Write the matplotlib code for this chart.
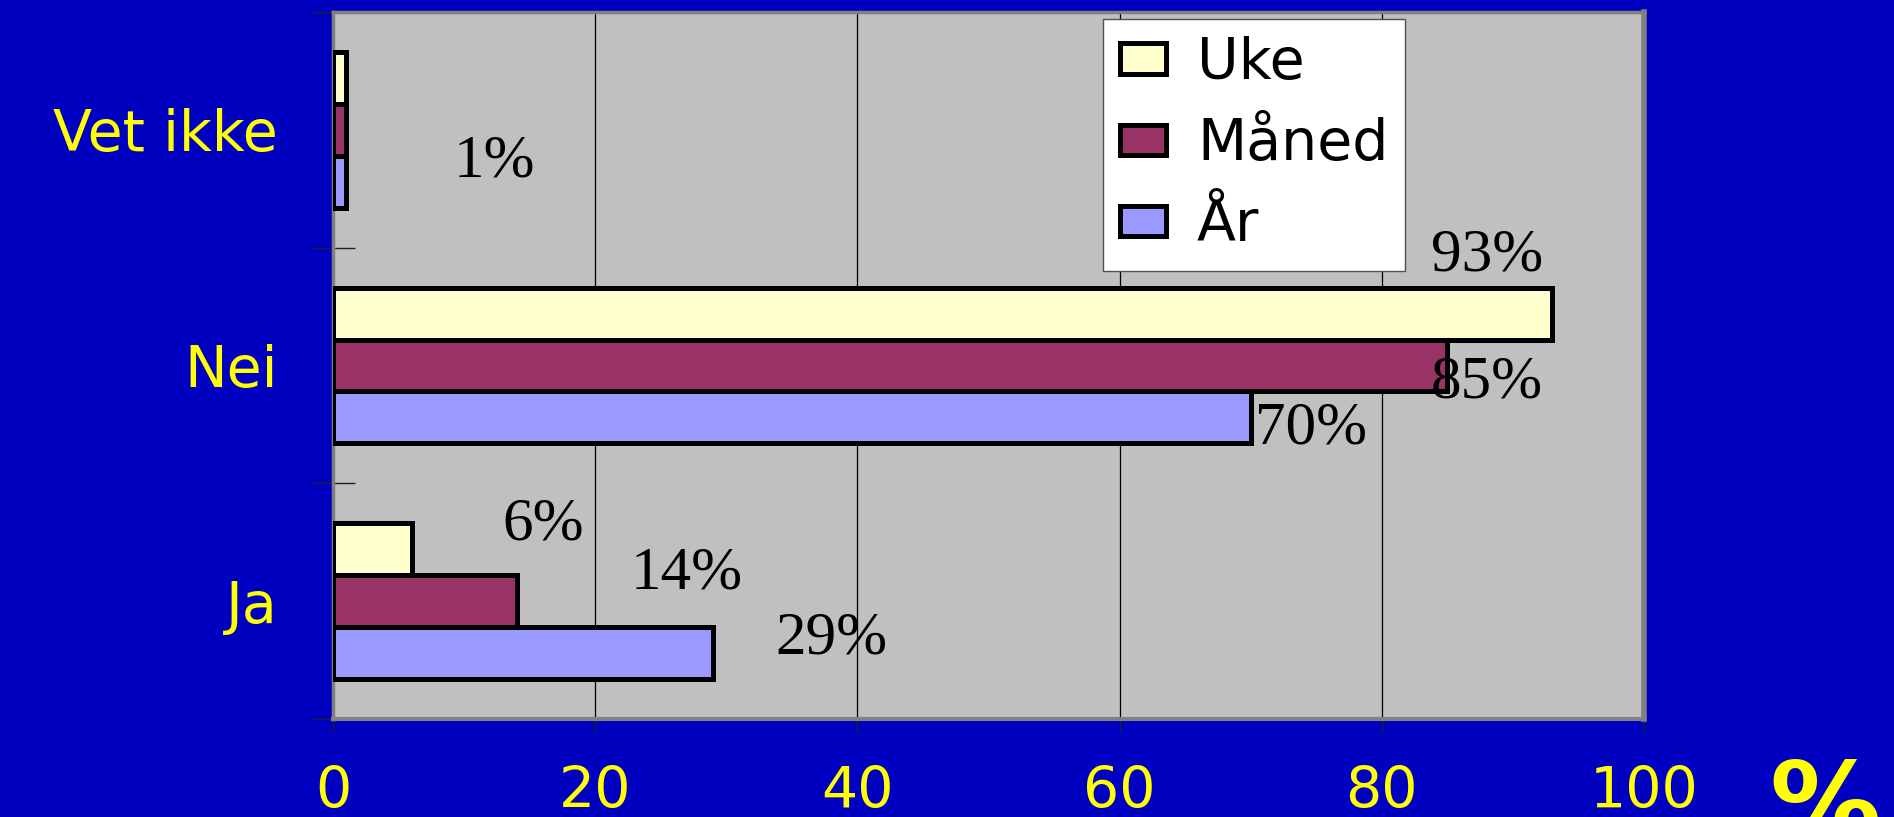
import numpy as np
import matplotlib.pyplot as plt

# data
categories = ["Ja", "Nei", "Vet ikke"]
series = ["Uke", "Måned", "År"]
uke = [6, 93, 1]
maaned = [14, 85, 1]
aar = [29, 70, 1]
x_ticks = [0, 20, 40, 60, 80, 100]

colors = ["#FFFFCC", "#993366", "#9999FF"]
bar_offsets = [0.22, 0.0, -0.22]
bar_h = 0.22

# label placement (data units), None = label not shown
label_dx = [[10, -5, None], [13, 3, 11.3], [9, 4.6, None]]
label_dy = [[0.04, 0.185, None], [0.052, -0.134, -0.2], [0.0, -0.113, None]]

blue = "#0000C0"
yellow = "#FFFF00"
sans = "DejaVu Sans"

fig = plt.figure(figsize=(18.94, 8.17), dpi=100, facecolor=blue)
ax = fig.add_axes([333 / 1894, 1 - 719 / 817, (1644 - 333) / 1894, (719 - 12) / 817])
ax.set_facecolor("#C0C0C0")

y = np.arange(len(categories))
for i, (vals, name) in enumerate(zip([uke, maaned, aar], series)):
    ax.barh(y + bar_offsets[i], vals, height=bar_h, color=colors[i],
            edgecolor="black", linewidth=3.6, label=name, zorder=3)
    for j, v in enumerate(vals):
        if label_dx[i][j] is None:
            continue
        ax.text(v + label_dx[i][j], y[j] + bar_offsets[i] + label_dy[i][j], f"{v}%",
                ha="center", va="baseline", fontsize=44,
                family="Liberation Serif", color="black", zorder=5)

ax.set_xlim(0, 100)
ax.set_ylim(-0.5, 2.5)
ax.set_xticks(x_ticks)
ax.set_xticklabels([str(t) for t in x_ticks])
ax.xaxis.grid(True, color="black", linewidth=0.9, zorder=1)
ax.set_axisbelow(True)

ax.set_yticks(y)
ax.set_yticklabels(categories)
ax.set_yticks(np.arange(-0.5, 3, 1), minor=True)
ax.tick_params(axis="y", which="major", length=0, pad=40)
ax.tick_params(axis="y", which="minor", direction="inout", length=31, width=1, color="#202020")
ax.tick_params(axis="x", direction="out", length=9, width=1, color="#202020", pad=24)
for lab in ax.get_xticklabels() + ax.get_yticklabels():
    lab.set_fontsize(41)
    lab.set_family(sans)
    lab.set_color(yellow)

for s in ax.spines.values():
    s.set_color("#808080")
    s.set_linewidth(2.5)
ax.spines["right"].set_linewidth(4)
ax.spines["bottom"].set_linewidth(3)

leg = ax.legend(loc="upper left", bbox_to_anchor=(1103 / 1894, 1 - 19 / 817),
                bbox_transform=fig.transFigure, borderaxespad=0,
                prop={"family": sans, "size": 41},
                handlelength=0.8, handleheight=0.45, handletextpad=0.55,
                labelspacing=0.46, borderpad=0.3, fancybox=False,
                framealpha=1, facecolor="white", edgecolor="#505050")
leg.get_frame().set_linewidth(1)
leg.set_zorder(4)

fig.text(1825 / 1894, 1 - 757 / 817, "%", ha="center", va="top",
         fontsize=80, fontweight="bold", family=sans, color=yellow)

fig.savefig("out.png", dpi=100, facecolor=blue)
